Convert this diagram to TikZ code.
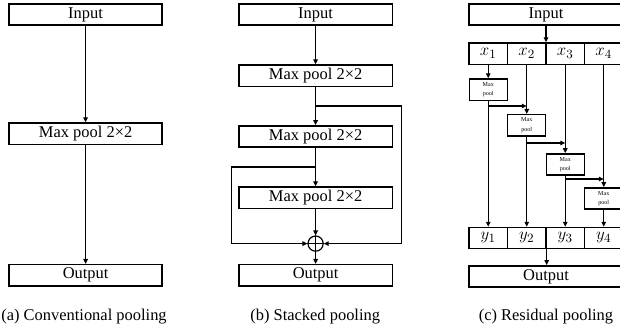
\documentclass[tikz,border=0pt]{standalone}
\usepackage{fontspec}
\setmainfont{Liberation Serif}
\usetikzlibrary{arrows.meta}
\begin{document}
\begin{tikzpicture}[x=1cm,y=1cm,
  font=\fontsize{11.7}{14}\selectfont,
  box/.style={draw, line width=1pt, minimum width=3.83cm, minimum height=0.53cm, inner sep=0pt},
  cell/.style={draw, line width=1pt, minimum width=0.9625cm, minimum height=0.53cm, inner sep=0pt, font=\fontsize{13}{14}\selectfont},
  pool/.style={draw, line width=1pt, minimum width=0.95cm, minimum height=0.53cm, inner sep=0pt, align=center, font=\fontsize{4.3}{6.5}\selectfont},
  caption/.style={anchor=base},
  link/.style={-{Triangle[length=3.5pt,width=3.2pt]}, line width=0.85pt},
  wire/.style={line width=0.85pt}]
\useasboundingbox (0,0) rectangle (15.5,-8.275);
% (a) conventional
\node[box] (ain) at (2.14,-0.36) {Input};
\node[box] (amp) at (2.14,-3.34) {Max pool 2×2};
\node[box] (aout) at (2.14,-6.88) {Output};
\node[caption] (acap) at (2.1,-8.02) {(a) Conventional pooling};
\draw[link] (ain) -- (amp);
\draw[link] (amp) -- (aout);
% (b) stacked
\node[box] (bin) at (7.89,-0.36) {Input};
\node[box] (bmp1) at (7.89,-1.89) {Max pool 2×2};
\node[box] (bmp2) at (7.89,-3.41) {Max pool 2×2};
\node[box] (bmp3) at (7.89,-4.94) {Max pool 2×2};
\node[draw, circle, line width=0.85pt, minimum size=0.38cm, inner sep=0pt] (plus) at (7.89,-6.09) {};
\draw[wire] (plus.north) -- (plus.south) (plus.west) -- (plus.east);
\node[box] (bout) at (7.89,-6.88) {Output};
\node[caption] (bcap) at (7.88,-8.02) {(b) Stacked pooling};
\coordinate (r1) at (7.89,-2.65);
\coordinate (rc) at (10.03,-6.09);
\coordinate (l1) at (7.89,-4.175);
\coordinate (lc) at (5.78,-6.09);
\draw[link] (bin) -- (bmp1);
\draw[link] (bmp1) -- (bmp2);
\draw[link] (bmp2) -- (bmp3);
\draw[link] (bmp3) -- (plus);
\draw[link] (plus) -- (bout);
\draw[link] (r1) -| (rc) -- (plus);
\draw[link] (l1) -| (lc) -- (plus);
% (c) residual
\node[box, minimum width=3.85cm] (cin) at (13.65,-0.36) {Input};
\node[cell] (x1) at (12.206,-1.34) {$x_1$};
\node[cell] (x2) at (13.169,-1.34) {$x_2$};
\node[cell] (x3) at (14.131,-1.34) {$x_3$};
\node[cell] (x4) at (15.094,-1.34) {$x_4$};
\node[pool] (p1) at (12.206,-2.24) {Max\\pool};
\node[pool] (p2) at (13.169,-3.13) {Max\\pool};
\node[pool] (p3) at (14.131,-4.11) {Max\\pool};
\node[pool] (p4) at (15.094,-4.96) {Max\\pool};
\node[cell] (y1) at (12.206,-5.95) {$y_1$};
\node[cell] (y2) at (13.169,-5.95) {$y_2$};
\node[cell] (y3) at (14.131,-5.95) {$y_3$};
\node[cell] (y4) at (15.094,-5.95) {$y_4$};
\node[box, minimum width=3.85cm] (cout) at (13.65,-6.91) {Output};
\node[caption] (ccap) at (13.65,-8.02) {(c) Residual pooling};
\coordinate (b1) at (12.206,-2.65);
\coordinate (b2) at (13.169,-3.575);
\coordinate (b3) at (14.131,-4.475);
\draw[link] (cin.south) -- (cin.south |- x2.north);
\draw[link] (x1) -- (p1);
\draw[link] (x2) -- (p2);
\draw[link] (x3) -- (p3);
\draw[link] (x4) -- (p4);
\draw[link] (p1) -- (y1);
\draw[link] (p2) -- (y2);
\draw[link] (p3) -- (y3);
\draw[link] (p4) -- (y4);
\draw[link] (b1) -- (b1 -| p2);
\draw[link] (b2) -- (b2 -| p3);
\draw[link] (b3) -- (b3 -| p4);
\draw[link] (y2.south east) -- (y2.south east |- cout.north);
\end{tikzpicture}
\end{document}
